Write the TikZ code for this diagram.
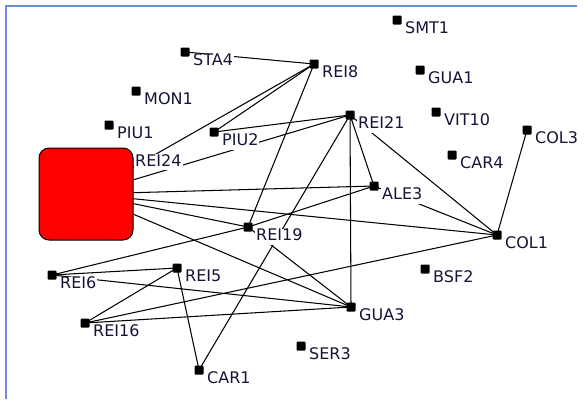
\documentclass[tikz,border=0pt]{standalone}
\usepackage{fontspec}
\setmainfont{DejaVu Sans}
\pgfdeclarelayer{paper}
\pgfdeclarelayer{ties}
\pgfsetlayers{paper,ties,main}
\definecolor{framecol}{RGB}{104,144,220}
\definecolor{labelcol}{RGB}{20,20,56}
\definecolor{hubred}{RGB}{255,0,0}
\tikzset{
  vtx/.style={fill=black, minimum size=9pt, inner sep=0pt, rounded corners=1pt},
  lbl/.style={fill=white, anchor=base west, inner xsep=1pt, inner ysep=0pt,
    text height=12pt, text depth=4pt, text=labelcol,
    font=\fontsize{16pt}{18pt}\selectfont},
  tie/.style={draw=black, line width=1.05pt},
  hub/.style={fill=hubred, draw=black, line width=1pt, rounded corners=10pt,
    minimum width=94pt, minimum height=92pt, inner sep=0pt},
  frameline/.style={draw=framecol, line width=2pt}
}
% vertex with its label set to the lower right
\newcommand\vtxat[3]{%
  \node[vtx] (#1) at (#2) {};
  \node[lbl] (#1l) at ([xshift=7pt,yshift=-13.5pt]#1.center) {#3};}
\begin{document}
\begin{tikzpicture}[x=1pt,y=-1pt]
\useasboundingbox (0,0) rectangle (585,399);
\begin{pgfonlayer}{paper}
  \fill[white] (0,0) rectangle (585,399);
\end{pgfonlayer}

% window frame
\draw[frameline] (6,399) -- (6,5.5) -- (577,5.5);

% the large actor
\node[hub] (REI24) at (86,194) {};
\node[lbl] (REI24l) at (134,166) {REI24};

% actors
\vtxat{SMT1}{397,20}{SMT1}
\vtxat{STA4}{185,52}{STA4}
\vtxat{REI8}{314,64}{REI8}
\vtxat{GUA1}{420,70}{GUA1}
\vtxat{MON1}{136,91}{MON1}
\vtxat{VIT10}{436,112}{VIT10}
\vtxat{REI21}{350,115}{REI21}
\vtxat{PIU1}{109,125}{PIU1}
\vtxat{COL3}{527,130}{COL3}
\vtxat{PIU2}{214,132}{PIU2}
\vtxat{CAR4}{452,155}{CAR4}
\vtxat{ALE3}{374,186}{ALE3}
\vtxat{REI19}{248,227}{REI19}
\vtxat{COL1}{497,235}{COL1}
\vtxat{REI5}{177,268}{REI5}
\vtxat{BSF2}{425,269}{BSF2}
\vtxat{REI6}{52,275}{REI6}
\vtxat{GUA3}{351,307}{GUA3}
\vtxat{REI16}{85,323}{REI16}
\vtxat{SER3}{301,346}{SER3}
\vtxat{CAR1}{199,370}{CAR1}

% ties, drawn centre to centre beneath nodes and labels
\begin{pgfonlayer}{ties}
\draw[tie] (STA4.center) -- (REI8.center);
\draw[tie] (REI24.center) -- (REI8.center);
\draw[tie] (PIU2.center) -- (REI8.center);
\draw[tie] (REI8.center) -- (REI19.center);
\draw[tie] (REI21.center) -- (PIU2.center);
\draw[tie] (REI21.center) -- (REI24.center);
\draw[tie] (REI21.center) -- (ALE3.center);
\draw[tie] (REI21.center) -- (GUA3.center);
\draw[tie] (REI21.center) -- (COL1.center);
\draw[tie] (REI21.center) -- (CAR1.center);
\draw[tie] (ALE3.center) -- (REI19.center);
\draw[tie] (ALE3.center) -- (REI24.center);
\draw[tie] (ALE3.center) -- (COL1.center);
\draw[tie] (REI24.center) -- (COL1.center);
\draw[tie] (REI24.center) -- (REI19.center);
\draw[tie] (REI24.center) -- (GUA3.center);
\draw[tie] (REI19.center) -- (REI6.center);
\draw[tie] (REI19.center) -- (GUA3.center);
\draw[tie] (REI6.center) -- (REI5.center);
\draw[tie] (REI6.center) -- (GUA3.center);
\draw[tie] (REI16.center) -- (REI5.center);
\draw[tie] (REI16.center) -- (COL1.center);
\draw[tie] (REI16.center) -- (GUA3.center);
\draw[tie] (REI5.center) -- (CAR1.center);
\draw[tie] (COL1.center) -- (COL3.center);
\end{pgfonlayer}
\end{tikzpicture}
\end{document}
